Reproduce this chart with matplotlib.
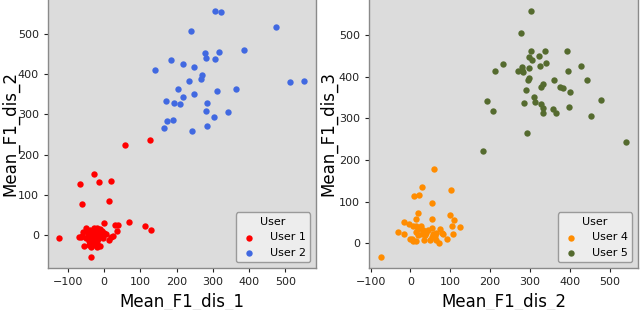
import matplotlib
matplotlib.use("Agg")
import matplotlib.pyplot as plt

# ---- data ----
u1_x = [-67, -26, -14, 20, -61, 15, -124, 0, 69, 112, 131, -35, 31, 38, 36, 15, 24, 20, 59, 126,
        -48, -57, -64, -56, -41, -18, -20, 1, -30, -25, -35, -15, -10, -45, -50, -38, -28, -20,
        -8, -5, -12, -30, -22, -40, -33, -16, -26, -60, -70, -44, -3, -24, -36, -12, 5, -18]
u1_y = [126, 151, 132, 135, 77, 84, -7, 31, 32, 22, 12, -54, 24, 25, 9, -13, -2, -5, 224, 236,
        17, 7, -5, -28, -26, -30, 17, 4, 10, 0, -5, -10, 5, 0, -8, 12, -15, -20,
        -3, 10, 15, -25, 5, -15, 3, -5, 18, -2, -5, 8, -8, -8, -30, -28, 2, 8]

u2_x = [305, 322, 240, 474, 387, 317, 278, 281, 305, 185, 218, 249, 141, 271, 267, 233, 513, 550,
        205, 363, 311, 249, 218, 170, 194, 210, 284, 280, 343, 303, 191, 173, 285, 166, 242]
u2_y = [557, 554, 507, 517, 461, 455, 452, 440, 438, 436, 425, 418, 411, 398, 389, 383, 381, 384,
        363, 362, 357, 351, 344, 333, 327, 326, 327, 309, 307, 293, 287, 284, 272, 266, 258]

u4_x = [-73, 58, 30, 102, 8, 21, 53, 19, 13, 55, 99, 109, 124, 105, 107, 92, -16, -30, -16, -3,
        7, 15, 26, 3, 7, 13, 35, 20, 31, 28, 40, 44, 55, 57, 65, 74, 78, 82, 53, 61, 65, 72,
        48, 36, 13, 19, 0]
u4_y = [-33, 178, 135, 128, 114, 115, 97, 73, 58, 58, 67, 56, 38, 40, 23, 10, 50, 27, 23, 46,
        40, 42, 42, 10, 6, 6, 8, 34, 32, 22, 24, 32, 37, 22, 24, 34, 24, 22, 15, 16, 8, 1,
        8, 20, 26, 20, 10]

u5_x = [303, 278, 302, 337, 393, 297, 322, 306, 340, 232, 428, 325, 298, 211, 396, 269, 279, 282,
        279, 297, 294, 360, 442, 332, 327, 375, 384, 291, 400, 310, 313, 284, 192, 479, 206, 327,
        332, 333, 358, 366, 398, 452, 293, 182, 541]
u5_y = [559, 506, 462, 462, 463, 449, 451, 440, 434, 431, 427, 426, 421, 414, 415, 415, 417, 413,
        423, 397, 393, 393, 393, 382, 375, 376, 374, 368, 363, 352, 340, 338, 342, 345, 319, 335,
        325, 314, 322, 314, 327, 306, 266, 222, 243]

fig = plt.figure(figsize=(6.4, 3.1), dpi=100)
ax1 = fig.add_axes([48/640, 42/310, 268/640, 268/310 + 0.005])
ax2 = fig.add_axes([369/640, 42/310, 269/640, 268/310 + 0.005])

bg = "#dcdcdc"
for ax in (ax1, ax2):
    ax.set_facecolor(bg)
    for sp in ax.spines.values():
        sp.set_color("#8a8a8a")
        sp.set_linewidth(1.0)
    ax.tick_params(labelsize=8, colors="#222222", length=3, width=0.8)

ax1.scatter(u1_x, u1_y, s=21, color="red", linewidths=0, label="User 1")
ax1.scatter(u2_x, u2_y, s=21, color="royalblue", linewidths=0, label="User 2")
ax2.scatter(u4_x, u4_y, s=21, color="darkorange", linewidths=0, label="User 4")
ax2.scatter(u5_x, u5_y, s=21, color="darkolivegreen", linewidths=0, label="User 5")

ax1.set_xlim(-154, 584)
ax1.set_ylim(-82, 588)
ax2.set_xlim(-104, 571)
ax2.set_ylim(-60, 589)
ax1.set_xticks([-100, 0, 100, 200, 300, 400, 500])
ax1.set_yticks([0, 100, 200, 300, 400, 500])
ax2.set_xticks([-100, 0, 100, 200, 300, 400, 500])
ax2.set_yticks([0, 100, 200, 300, 400, 500])

ax1.set_xlabel("Mean_F1_dis_1", fontsize=12)
ax1.set_ylabel("Mean_F1_dis_2", fontsize=12)
ax2.set_xlabel("Mean_F1_dis_2", fontsize=12)
ax2.set_ylabel("Mean_F1_dis_3", fontsize=12)
ax1.yaxis.set_label_coords(-0.108, 0.5)
ax2.yaxis.set_label_coords(-0.118, 0.5)

for ax in (ax1, ax2):
    leg = ax.legend(title="User", loc="lower right", fontsize=8, title_fontsize=8,
                    frameon=True, fancybox=True, markerscale=1.0, handletextpad=1.1,
                    handlelength=1.6, borderaxespad=0.5)
    leg.get_frame().set_edgecolor("#888888")
    leg.get_frame().set_facecolor("#f2f2f2")

fig.savefig("out.png", dpi=100)
